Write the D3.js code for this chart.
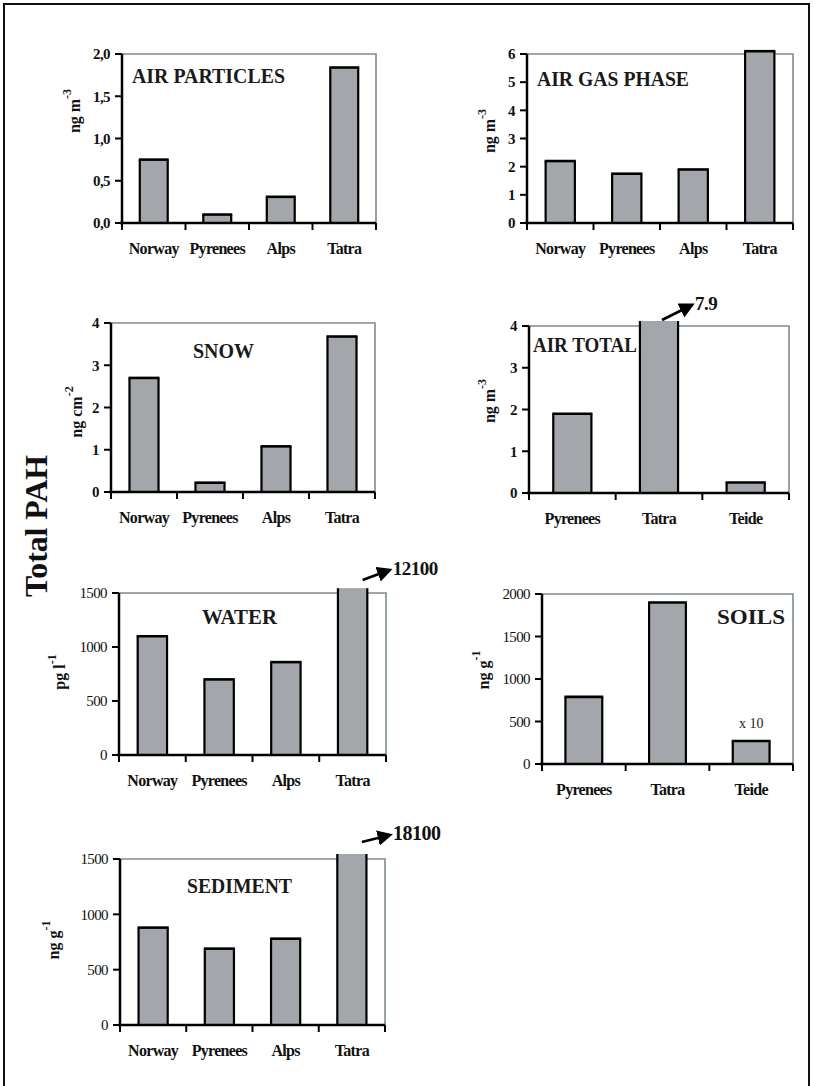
<!DOCTYPE html>
<html><head><meta charset="utf-8">
<script src="https://cdn.jsdelivr.net/npm/d3@7"></script>
<style>
html,body{margin:0;padding:0;background:#fff;}
svg text{font-family:"Liberation Serif","Times New Roman",serif;}
</style></head>
<body>
<svg id="chart" width="814" height="1086"></svg>
<script>
// ---------- data ----------
const catsFour = ["Norway", "Pyrenees", "Alps", "Tatra"];
const catsThree = ["Pyrenees", "Tatra", "Teide"];

const airParticles = [0.75, 0.10, 0.31, 1.84];   // ng m-3
const airGasPhase  = [2.2, 1.75, 1.9, 6.1];      // ng m-3
const snow         = [2.7, 0.22, 1.08, 3.68];    // ng cm-2
const airTotal     = [1.9, 7.9, 0.25];           // ng m-3
const water        = [1100, 700, 860, 12100];    // pg l-1
const soils        = [790, 1900, 270];           // ng g-1 (Teide x10)
const sediment     = [880, 690, 780, 18100];     // ng g-1

const ticksAirParticles = [0, 0.5, 1.0, 1.5, 2.0];
const ticksAirGas = [0, 1, 2, 3, 4, 5, 6];
const ticksSnow = [0, 1, 2, 3, 4];
const ticksAirTotal = [0, 1, 2, 3, 4];
const ticksWater = [0, 500, 1000, 1500];
const ticksSoils = [0, 500, 1000, 1500, 2000];
const ticksSediment = [0, 500, 1000, 1500];

const titles = ["AIR PARTICLES", "AIR GAS PHASE", "SNOW", "AIR TOTAL", "WATER", "SOILS", "SEDIMENT"];
const unitMain = ["ng m", "ng m", "ng cm", "ng m", "pg l", "ng g", "ng g"];
const unitSup = ["-3", "-3", "-2", "-3", "-1", "-1", "-1"];
const breakLabels = [null, null, null, "7.9", "12100", null, "18100"];
const barNotes = [null, null, null, null, null, [null, null, "x 10"], null];
const mainLabel = "Total PAH";

// ---------- layout (positions / styles) ----------
const panels = [
  {cats: catsFour, vals: airParticles, ticks: ticksAirParticles, max: 2, fmt: d => d3.format(".1f")(d).replace(".", ","),
   x0: 122, x1: 376, yt: 54, yb: 223, tickBold: true,
   title: {x: 132, y: 83, len: 153, size: 21}, ylab: {x: 74, y: 111}},
  {cats: catsFour, vals: airGasPhase, ticks: ticksAirGas, max: 6, fmt: d3.format("d"),
   x0: 527, x1: 793, yt: 54, yb: 223, tickBold: true,
   title: {x: 537, y: 86, len: 152, size: 21}, ylab: {x: 489, y: 131}},
  {cats: catsFour, vals: snow, ticks: ticksSnow, max: 4, fmt: d3.format("d"),
   x0: 111, x1: 375, yt: 323, yb: 492, tickBold: true,
   title: {x: 193, y: 358, len: 61, size: 22}, ylab: {x: 76, y: 412}},
  {cats: catsThree, vals: airTotal, ticks: ticksAirTotal, max: 4, fmt: d3.format("d"),
   x0: 529, x1: 789, yt: 326, yb: 493, tickBold: true,
   title: {x: 533, y: 352, len: 104, size: 21}, ylab: {x: 489, y: 401},
   arrow: {dx0: 3, dy0: -6, dx1: 33, dy1: -21, size: 19}},
  {cats: catsFour, vals: water, ticks: ticksWater, max: 1500, fmt: d3.format("d"),
   x0: 119, x1: 386, yt: 593, yb: 755, tickBold: false,
   title: {x: 202, y: 624, len: 75, size: 22}, ylab: {x: 59, y: 672},
   arrow: {dx0: 10, dy0: -13, dx1: 37, dy1: -23, size: 19}},
  {cats: catsThree, vals: soils, ticks: ticksSoils, max: 2000, fmt: d3.format("d"),
   x0: 542, x1: 793, yt: 594, yb: 764, tickBold: false,
   title: {x: 717, y: 624, len: 68, size: 22}, ylab: {x: 483, y: 670}},
  {cats: catsFour, vals: sediment, ticks: ticksSediment, max: 1500, fmt: d3.format("d"),
   x0: 120, x1: 385, yt: 859, yb: 1025, tickBold: false,
   title: {x: 187, y: 893, len: 105, size: 22}, ylab: {x: 53, y: 940},
   arrow: {dx0: 10, dy0: -17, dx1: 38, dy1: -24, size: 20}}
];

const BAR_FILL = "#a3a7ab";
const FRAME_GREY = "#7f8c8c";

const svg = d3.select("#chart");

svg.append("defs").append("marker")
  .attr("id", "ah").attr("viewBox", "0 0 10 10").attr("refX", 8).attr("refY", 5)
  .attr("markerWidth", 5.5).attr("markerHeight", 5.5).attr("orient", "auto")
  .append("path").attr("d", "M0,0 L10,5 L0,10 Z").attr("fill", "#000");

// outer frame
svg.append("path").attr("d", "M4,1086 L4,4 L809,4 L809,1086")
  .attr("fill", "none").attr("stroke", "#111").attr("stroke-width", 2);

// main label
svg.append("text")
  .attr("transform", "translate(36,526) rotate(-90)")
  .attr("text-anchor", "middle").attr("dominant-baseline", "central")
  .attr("font-size", 32).attr("font-weight", "bold").attr("fill", "#111")
  .attr("textLength", 142).attr("lengthAdjust", "spacingAndGlyphs")
  .text(mainLabel);

panels.forEach((p, i) => {
  const g = svg.append("g");
  const x = d3.scaleBand().domain(p.cats).range([p.x0, p.x1]).paddingInner(0.56).paddingOuter(0.28);
  const y = d3.scaleLinear().domain([0, p.max]).range([p.yb, p.yt]);
  const yCap = p.max * 1.03;
  const step = (p.x1 - p.x0) / p.cats.length;

  // grey frame top & right
  g.append("path").attr("d", `M${p.x0},${p.yt} L${p.x1},${p.yt} L${p.x1},${p.yb}`)
    .attr("fill", "none").attr("stroke", FRAME_GREY).attr("stroke-width", 1.6);

  // bars
  p.vals.forEach((v, j) => {
    const c = p.cats[j];
    const bx = x(c), bw = x.bandwidth();
    const broken = v > yCap;
    const top = y(Math.min(v, yCap));
    g.append("rect").attr("x", bx).attr("y", top).attr("width", bw).attr("height", p.yb - top)
      .attr("fill", BAR_FILL);
    g.append("path").attr("d", `M${bx},${p.yb} L${bx},${top} M${bx + bw},${p.yb} L${bx + bw},${top}`)
      .attr("stroke", "#000").attr("stroke-width", 2.2).attr("fill", "none");
    if (!broken) {
      g.append("line").attr("x1", bx - 1).attr("x2", bx + bw + 1).attr("y1", top).attr("y2", top)
        .attr("stroke", "#000").attr("stroke-width", 2.6);
    } else if (p.arrow && breakLabels[i]) {
      const cx = bx + bw / 2;
      const a = p.arrow;
      g.append("line")
        .attr("x1", cx + a.dx0).attr("y1", p.yt + a.dy0)
        .attr("x2", cx + a.dx1).attr("y2", p.yt + a.dy1)
        .attr("stroke", "#000").attr("stroke-width", 2.8).attr("marker-end", "url(#ah)");
      g.append("text").attr("x", cx + a.dx1 + 3).attr("y", p.yt + a.dy1 + 5)
        .attr("font-size", a.size).attr("font-weight", "bold").attr("fill", "#111")
        .attr("letter-spacing", -0.5)
        .text(breakLabels[i]);
    }
    if (barNotes[i] && barNotes[i][j]) {
      g.append("text").attr("x", bx + bw / 2).attr("y", top - 13)
        .attr("text-anchor", "middle").attr("font-size", 14).attr("fill", "#222")
        .text(barNotes[i][j]);
    }
  });

  // y axis
  g.append("line").attr("x1", p.x0).attr("x2", p.x0).attr("y1", p.yt).attr("y2", p.yb)
    .attr("stroke", "#000").attr("stroke-width", 2.5);
  p.ticks.forEach(t => {
    g.append("line").attr("x1", p.x0 - 7).attr("x2", p.x0).attr("y1", y(t)).attr("y2", y(t))
      .attr("stroke", "#000").attr("stroke-width", 2);
    g.append("text").attr("x", p.x0 - 12).attr("y", y(t)).attr("dy", "0.35em")
      .attr("text-anchor", "end").attr("font-size", 15)
      .attr("font-weight", p.tickBold ? "bold" : "normal").attr("fill", "#111")
      .attr("letter-spacing", -0.6)
      .text(p.fmt(t));
  });

  // x axis
  g.append("line").attr("x1", p.x0 - 2).attr("x2", p.x1).attr("y1", p.yb).attr("y2", p.yb)
    .attr("stroke", "#000").attr("stroke-width", 2.5);
  d3.range(p.cats.length + 1).forEach(k => {
    const tx = p.x0 + k * step;
    g.append("line").attr("x1", tx).attr("x2", tx).attr("y1", p.yb).attr("y2", p.yb + 7)
      .attr("stroke", "#000").attr("stroke-width", 2);
  });
  p.cats.forEach(c => {
    g.append("text").attr("x", x(c) + x.bandwidth() / 2).attr("y", p.yb + 31)
      .attr("text-anchor", "middle").attr("font-size", 16).attr("font-weight", "bold")
      .attr("fill", "#111").attr("letter-spacing", -0.7)
      .text(c);
  });

  // title
  g.append("text").attr("x", p.title.x).attr("y", p.title.y)
    .attr("font-size", p.title.size).attr("font-weight", "bold").attr("fill", "#1a1a1a")
    .attr("textLength", p.title.len).attr("lengthAdjust", "spacingAndGlyphs")
    .text(titles[i]);

  // y unit label
  const yl = g.append("text")
    .attr("transform", `translate(${p.ylab.x},${p.ylab.y}) rotate(-90)`)
    .attr("text-anchor", "middle").attr("dominant-baseline", "central")
    .attr("font-size", 16).attr("font-weight", "bold").attr("fill", "#111");
  yl.append("tspan").text(unitMain[i]);
  yl.append("tspan").attr("dy", -7).attr("font-size", 12).text(unitSup[i]);
});
</script>
</body></html>
